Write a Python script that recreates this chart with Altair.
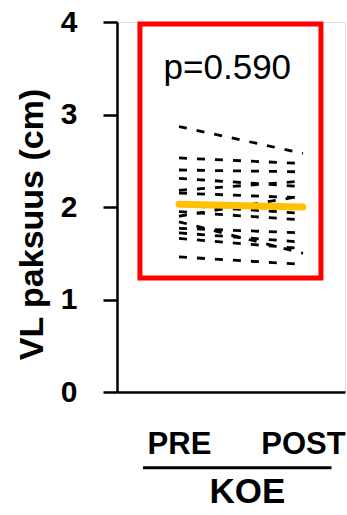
import altair as alt
import pandas as pd

# Individual subjects (cm)
pre_vals = [2.87, 2.53, 2.40, 2.31, 2.18, 2.15, 2.02, 1.95, 1.90, 1.84, 1.77, 1.72, 1.66, 1.46]
post_vals = [2.58, 2.47, 2.38, 2.22, 2.28, 2.10, 1.93, 1.86, 2.12, 1.50, 1.72, 1.62, 1.55, 1.38]
mean_vals = [2.03, 2.00]
time_pos = [0, 1]
time_labels = ["PRE", "POST"]
p_text = "p=0.590"

# annotation extents in data units
box_x = [-0.315, 1.145]
box_y = [1.232, 3.978]
under_x = [-0.29, 1.23]
under_y = [-0.82]

rows = []
for i, (a, b) in enumerate(zip(pre_vals, post_vals)):
    rows.append({"id": i, "t": time_pos[0], "v": a})
    rows.append({"id": i, "t": time_pos[1], "v": b})
ind = pd.DataFrame(rows)
mean_df = pd.DataFrame({"t": time_pos, "v": mean_vals})
box_df = pd.DataFrame({"x": [box_x[0]], "x2": [box_x[1]], "y": [box_y[0]], "y2": [box_y[1]]})
under_df = pd.DataFrame({"x": [under_x[0]], "x2": [under_x[1]], "y": under_y})
txt_df = pd.DataFrame({"x": [0.39], "y": [3.5], "label": [p_text]})

xscale = alt.Scale(domain=[-0.5, 1.339], nice=False, zero=False)
yscale = alt.Scale(domain=[0, 4], nice=False)

label_expr = "datum.value == 0 ? 'PRE' : (datum.value == 1 ? 'POST' : '')"

lines = alt.Chart(ind).mark_line(
    color="black", strokeWidth=2.8, strokeDash=[8, 10]
).encode(
    x=alt.X("t:Q", scale=xscale, axis=alt.Axis(
        values=time_pos, labelExpr=label_expr, ticks=False, grid=False,
        labelFontSize=31, labelFontWeight="bold", labelPadding=37,
        labelFont="Liberation Sans", labelColor="black",
        domainColor="black", domainWidth=2.5,
        title="KOE", titleFontSize=35, titleFont="Liberation Sans",
        titleFontWeight="bold", titleColor="black",
        titleX=130, titleY=99, titleAlign="center", titleBaseline="middle",
    )),
    y=alt.Y("v:Q", scale=yscale, axis=alt.Axis(
        values=[0, 1, 2, 3, 4], format="d", grid=False,
        tickSize=14, tickWidth=2.5, tickColor="black",
        domainColor="black", domainWidth=2.5,
        labelFontSize=30, labelFontWeight="bold", labelPadding=26,
        labelFont="Liberation Sans", labelColor="black",
        title="VL paksuus (cm)", titleFontSize=34, titleFont="Liberation Sans",
        titleFontWeight="bold", titleColor="black",
        titleAngle=270, titleX=-85, titleY=202, titleAlign="center",
        titleBaseline="middle",
    )),
    detail="id:N",
)

mean_line = alt.Chart(mean_df).mark_line(
    color="#FFC000", strokeWidth=7, strokeCap="round"
).encode(x=alt.X("t:Q", scale=xscale), y=alt.Y("v:Q", scale=yscale))

box = alt.Chart(box_df).mark_rect(
    fill=None, fillOpacity=0, stroke="#FF0000", strokeWidth=5
).encode(
    x=alt.X("x:Q", scale=xscale), x2="x2:Q",
    y=alt.Y("y:Q", scale=yscale), y2="y2:Q",
)

underline = alt.Chart(under_df).mark_rule(color="black", strokeWidth=3).encode(
    x=alt.X("x:Q", scale=xscale), x2="x2:Q", y=alt.Y("y:Q", scale=yscale)
)

ptext = alt.Chart(txt_df).mark_text(
    fontSize=35, font="Liberation Sans", color="black", align="center", baseline="middle"
).encode(x=alt.X("x:Q", scale=xscale), y=alt.Y("y:Q", scale=yscale), text="label:N")

chart = alt.layer(lines, mean_line, box, underline, ptext).properties(
    width=228, height=370,
    autosize=alt.AutoSizeParams(type="none"),
    padding={"left": 117, "top": 22, "right": 2, "bottom": 123},
).configure_view(stroke=None).configure(background="white")

chart.save("out.html", embed_options={"renderer": "svg", "actions": False})
